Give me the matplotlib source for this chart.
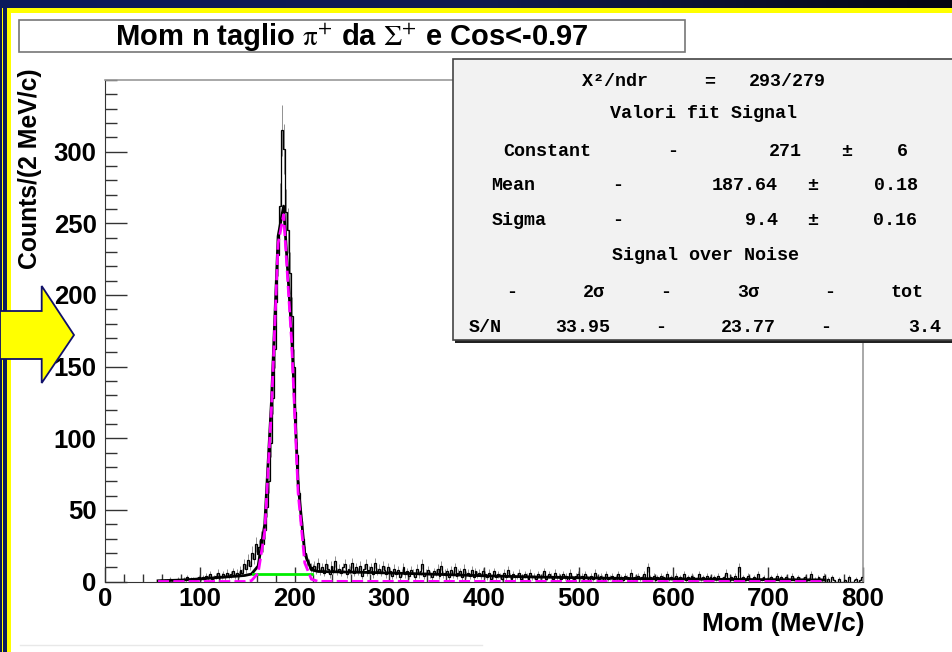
import numpy as np
import matplotlib
matplotlib.use("Agg")
import matplotlib.pyplot as plt
from matplotlib.patches import Rectangle, Polygon
from matplotlib.ticker import MultipleLocator, FixedLocator
from matplotlib.colors import LinearSegmentedColormap

plt.rcParams['font.family'] = ['Liberation Sans', 'DejaVu Sans']
plt.rcParams['mathtext.fontset'] = 'stix'

W, H = 952, 652

# histogram: 2 MeV/c bins starting at 56 MeV/c
bin_lo = 56
bin_w = 2
counts = [
    # 56-100
    0, 1, 0, 1, 1, 0, 2, 1, 1, 0, 2, 1, 1, 2, 1, 3, 1, 2, 2, 1, 2, 3,
    # 100-140
    2, 3, 2, 4, 3, 5, 2, 3, 4, 6, 3, 4, 5, 3, 6, 4, 5, 7, 4, 6,
    # 140-166
    5, 8, 6, 12, 9, 15, 11, 20, 16, 26, 19, 24, 30,
    # 166-220 (peak)
    26, 36, 52, 70, 97, 128, 162, 195, 228, 262, 315, 302, 258, 245,
    215, 185, 150, 118, 88, 62, 42, 30, 20, 15, 12, 10, 9,
    # 220-300
    11, 8, 13, 7, 10, 6, 12, 9, 5, 11, 8, 14, 7, 9, 6, 10, 12, 5, 9, 8,
    13, 6, 10, 7, 11, 4, 9, 12, 6, 8, 10, 5, 13, 7, 9, 6, 11, 8, 5, 10,
    # 300-400
    7, 4, 9, 5, 8, 3, 6, 10, 5, 7, 4, 8, 6, 3, 9, 5, 7, 12, 4, 6,
    8, 5, 3, 7, 6, 9, 4, 11, 5, 6, 7, 3, 8, 5, 10, 4, 6, 7, 3, 9,
    5, 6, 4, 8, 3, 7, 5, 6, 4, 7,
    # 400-500
    5, 3, 6, 2, 4, 7, 3, 5, 4, 2, 6, 3, 8, 4, 2, 5, 3, 4, 6, 2,
    3, 5, 4, 1, 6, 3, 4, 2, 5, 3, 4, 7, 2, 3, 5, 4, 2, 6, 3, 4,
    2, 5, 3, 4, 1, 6, 3, 2, 4, 5,
    # 500-600
    3, 4, 2, 5, 3, 1, 4, 2, 6, 3, 2, 4, 3, 1, 5, 2, 3, 4, 2, 3,
    5, 2, 3, 1, 4, 3, 2, 6, 2, 3, 1, 4, 2, 3, 5, 2, 10, 3, 2, 4,
    1, 3, 2, 4, 3, 1, 5, 2, 3, 2,
    # 600-700
    2, 4, 1, 3, 2, 5, 1, 3, 2, 4, 3, 1, 2, 5, 2, 3, 1, 4, 2, 3,
    1, 3, 2, 4, 1, 2, 3, 6, 2, 1, 3, 2, 4, 1, 10, 2, 3, 1, 2, 4,
    2, 1, 3, 2, 5, 1, 2, 3, 1, 2,
    # 700-800
    2, 3, 1, 2, 4, 1, 3, 2, 1, 3, 2, 1, 4, 2, 1, 3, 2, 1, 2, 3,
    1, 2, 5, 1, 2, 1, 3, 2, 1, 4, 0, 2, 0, 3, 1, 0, 0, 2, 0, 0,
    1, 0, 3, 0, 0, 1, 2, 0, 1, 3,
]

# fit curves as drawn (sampled)
total_x = [56, 80, 100, 120, 140, 147.5, 154.6, 161.6, 168.6, 175.7, 182.7,
           188.5, 196.8, 203.8, 210.8, 217.8, 224.9, 240, 280, 320, 360, 400,
           450, 500, 550, 600, 650, 700, 760]
total_y = [0.5, 1.0, 1.8, 2.8, 3.8, 4.2, 5.2, 10.8, 40, 126, 241, 262, 175,
           68, 19.5, 8.2, 7.0, 6.8, 6.3, 5.6, 4.8, 4.0, 3.2, 2.6, 2.1, 1.8,
           1.5, 1.3, 1.1]
signal_x = [56, 147.5, 154.6, 161.6, 168.6, 175.7, 182.7, 188.5, 196.8,
            203.8, 210.8, 217.8, 224.9, 760]
signal_y = [0, 0, 0.6, 5.8, 34.8, 121, 236, 256, 169, 62, 13, 1.6, 0.1, 0]
bkg_x = [156, 218]
bkg_y = [5, 5]

y_labels = [0, 50, 100, 150, 200, 250, 300]
title = r'Mom n taglio $\mathrm{\pi}^{+}$ da $\mathrm{\Sigma}^{+}$ e Cos<-0.97'


def fx(px):
    return px / W


def fy(py):
    return 1 - py / H


fig = plt.figure(figsize=(W / 100, H / 100), dpi=100)
fig.patch.set_facecolor('white')

# frame decoration: top gradient strip, yellow/navy borders
top = fig.add_axes([0, fy(8), 1, 8 / H])
grad = np.linspace(0, 1, 256).reshape(1, -1)
cm = LinearSegmentedColormap.from_list('bar', ['#0b1a5c', '#101c50', '#050510'])
top.imshow(grad, aspect='auto', cmap=cm)
top.axis('off')
fig.add_artist(Rectangle((0, fy(12.5)), 1, 4.5 / H, transform=fig.transFigure,
                         facecolor='#ffff00', edgecolor='none'))
fig.add_artist(Rectangle((0, 0), 10.7 / W, fy(8), transform=fig.transFigure,
                         facecolor='#ffff00', edgecolor='none'))
fig.add_artist(Rectangle((0, 0), 1.7 / W, fy(8), transform=fig.transFigure,
                         facecolor='#0b1a5c', edgecolor='none'))
fig.add_artist(Rectangle((3.3 / W, 0), 4 / W, fy(8), transform=fig.transFigure,
                         facecolor='#0b1a5c', edgecolor='none'))
fig.add_artist(plt.Line2D([fx(20), fx(482)], [fy(645), fy(645)],
                          transform=fig.transFigure, color='#e8e8e8', lw=1))

ax = fig.add_axes([fx(105), fy(581.5), (863 - 105) / W, (581.5 - 80) / H])
edges = bin_lo + bin_w * np.arange(len(counts) + 1)
centers = edges[:-1] + bin_w / 2
c = np.array(counts, dtype=float)
err = np.sqrt(c)
ax.vlines(centers, c - err, c + err, color='#808080', lw=0.6, zorder=2)
ax.stairs(c, edges, color='black', lw=0.9, zorder=3)
ax.plot(total_x, total_y, color='black', lw=2, zorder=4)
ax.plot(signal_x, signal_y, color='#ff00ff', lw=2, ls=(0, (4, 1.5)), zorder=5)
ax.plot(bkg_x, bkg_y, color='#00ee00', lw=2, zorder=4)

ax.set_xlim(0, 800)
ax.set_ylim(0, 350)
ax.xaxis.set_major_locator(MultipleLocator(100))
ax.xaxis.set_minor_locator(MultipleLocator(20))
ax.yaxis.set_major_locator(FixedLocator(y_labels))
ax.yaxis.set_minor_locator(MultipleLocator(10))
ax.tick_params(axis='y', which='major', direction='in', length=16, width=1,
               color='#333333', labelsize=18.5, pad=6)
ax.tick_params(axis='y', which='minor', direction='in', length=8.5, width=1,
               color='#333333')
ax.tick_params(axis='x', which='major', direction='in', length=11, width=1,
               color='#333333', labelsize=18.5, pad=4)
ax.tick_params(axis='x', which='minor', direction='in', length=6, width=1,
               color='#333333')
for lab in ax.get_xticklabels() + ax.get_yticklabels():
    lab.set_fontweight('bold')
for s in ['left', 'bottom']:
    ax.spines[s].set_color('#333333')
for s in ['top', 'right']:
    ax.spines[s].set_color('#999999')
    ax.spines[s].set_linewidth(1.2)

fig.text(fx(30), fy(68), 'Counts/(2 MeV/c)', rotation=90, ha='center',
         va='top', fontsize=17.8, fontweight='bold')
fig.text(fx(865), fy(624), 'Mom (MeV/c)', ha='right', va='center',
         fontsize=19, fontweight='bold')

# title box
fig.add_artist(Rectangle((fx(19), fy(52)), (685 - 19) / W, 32 / H,
                         transform=fig.transFigure, facecolor='white',
                         edgecolor='#777777', lw=1.2, zorder=5))
fig.text(fx(352), fy(37), title, ha='center', va='center', fontsize=21,
         fontweight='bold', zorder=6)

# stats box
fig.add_artist(Rectangle((fx(455), fy(343)), 1, 4 / H,
                         transform=fig.transFigure, facecolor='#222222',
                         edgecolor='none', zorder=5))
fig.add_artist(Rectangle((fx(453), fy(340)), 1, (340 - 59) / H,
                         transform=fig.transFigure, facecolor='#f2f2f2',
                         edgecolor='#444444', lw=1.2, zorder=6))
mono = ['Liberation Mono', 'DejaVu Sans Mono']
rows = [
    (82, [(615, 'X²/ndr'), (710, '='), (787, '293/279')]),
    (114, [(703, 'Valori fit Signal')]),
    (151, [(547, 'Constant'), (673, '-'), (785, '271'), (847, '±'), (902, '6')]),
    (186, [(513, 'Mean'), (618, '-'), (745, '187.64'), (813, '±'), (896, '0.18')]),
    (220, [(519, 'Sigma'), (618, '-'), (762, '9.4'), (813, '±'), (895, '0.16')]),
    (255, [(705, 'Signal over Noise')]),
    (292, [(512, '-'), (594, '2σ'), (666, '-'), (748, '3σ'), (830, '-'), (907, 'tot')]),
    (327, [(485, 'S/N'), (583, '33.95'), (661, '-'), (748, '23.77'), (826, '-'), (925, '3.4')]),
]
for yy, items in rows:
    for xx, s in items:
        fig.text(fx(xx), fy(yy), s, ha='center', va='center', fontsize=13.2,
                 fontweight='bold', family=mono, zorder=7)

# yellow arrow
arrow = [(0, 311), (41.7, 311), (41.7, 286), (74, 335), (41.7, 383),
         (41.7, 359), (0, 359)]
fig.add_artist(Polygon([(fx(a), fy(b)) for a, b in arrow], closed=True,
                       transform=fig.transFigure, facecolor='#ffff00',
                       edgecolor='#10106a', lw=1.3, zorder=8))

fig.savefig('out.png', dpi=100)
